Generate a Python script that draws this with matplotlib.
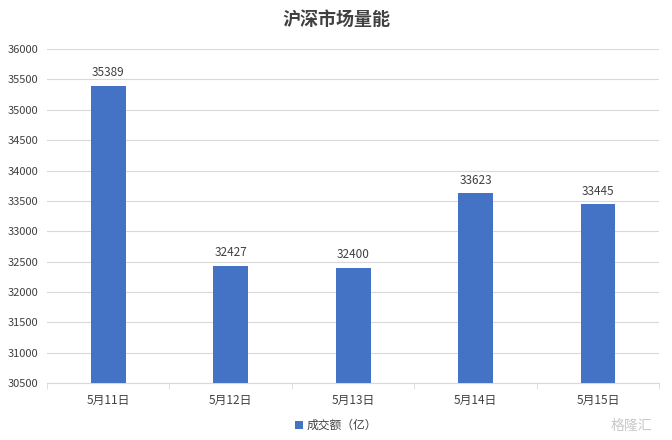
import matplotlib
matplotlib.use("Agg")
import matplotlib.pyplot as plt
import numpy as np

plt.rcParams['font.family'] = ['Noto Sans CJK SC', 'DejaVu Sans']

categories = ["5月11日", "5月12日", "5月13日", "5月14日", "5月15日"]
values = [35389, 32427, 32400, 33623, 33445]
series_name = "成交额（亿）"
title = "沪深市场量能"

fig = plt.figure(figsize=(6.72, 4.40), dpi=100)
ax = fig.add_axes([0.070, 0.1295, 0.911, 0.759])

x = np.arange(len(categories))
bars = ax.bar(x, values, width=0.285, color="#4472C4", label=series_name, zorder=3)

ax.set_ylim(30500, 36000)
ax.set_yticks(np.arange(30500, 36001, 500))
ax.set_xlim(-0.5, len(categories) - 0.5)
ax.set_xticks(x)
ax.set_xticklabels(categories)
ax.set_xticks(np.arange(-0.5, len(categories), 1), minor=True)
ax.tick_params(axis='x', which='major', length=0, pad=8, labelsize=8.5, colors="#404040")
ax.tick_params(axis='x', which='minor', length=4, color="#D9D9D9")
ax.tick_params(axis='y', length=0, labelsize=8, colors="#404040", pad=6)
ax.grid(axis='y', color="#D9D9D9", linewidth=0.8, zorder=0)
for s in ['top', 'right', 'left']:
    ax.spines[s].set_visible(False)
ax.spines['bottom'].set_color("#D9D9D9")

for xi, v in zip(x, values):
    ax.text(xi, v + 110, str(v), ha='center', va='bottom', fontsize=8.5, color="#404040")

fig.text(0.5, 0.955, title, ha='center', va='center', fontsize=13, fontweight='bold', color="#404040")

fig.legend(handles=[bars], labels=[series_name], loc='center', bbox_to_anchor=(0.5, 0.033),
           frameon=False, fontsize=8.5, handlelength=0.7, handleheight=0.7, handletextpad=0.3,
           labelcolor="#404040")

fig.text(0.97, 0.033, "格隆汇", ha='right', va='center', fontsize=10, color="#C8C8C8")

fig.savefig("out.png", dpi=100)
